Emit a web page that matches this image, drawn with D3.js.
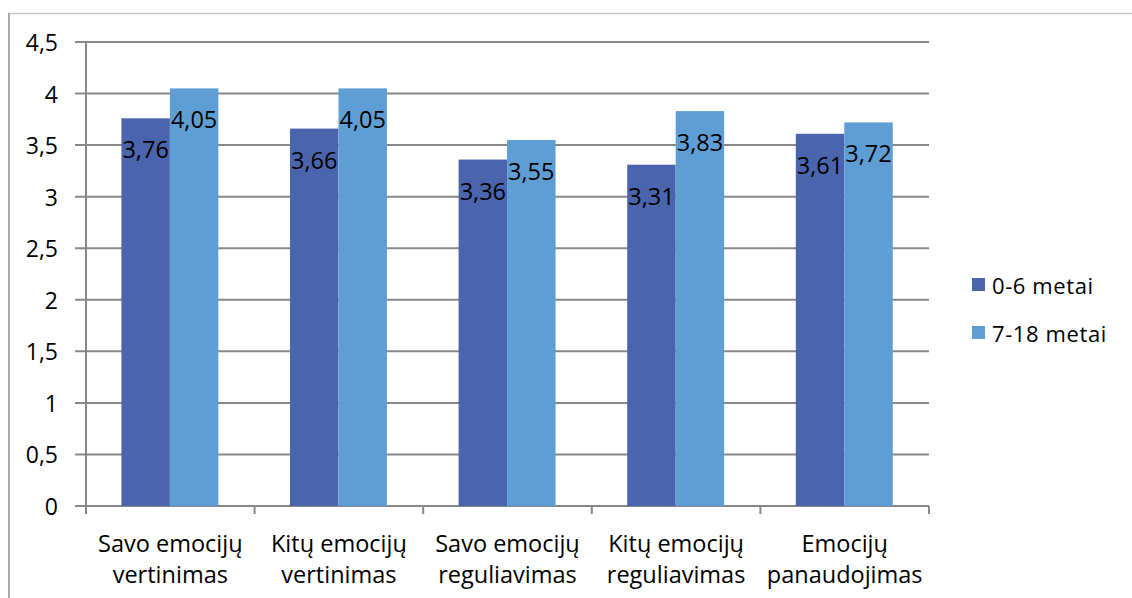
<!DOCTYPE html>
<html>
<head>
<meta charset="utf-8">
<script src="https://cdn.jsdelivr.net/npm/d3@7"></script>
<style>
  html, body { margin: 0; padding: 0; background: #fff; }
  svg { display: block; }
  text { font-family: "Open Sans", "Liberation Sans", sans-serif; fill: #000; }
</style>
</head>
<body>
<svg id="chart" width="1132" height="598"></svg>
<script>
// Category names (two lines each) and series values
const categories = [
  ["Savo emocijų", "vertinimas"],
  ["Kitų emocijų", "vertinimas"],
  ["Savo emocijų", "reguliavimas"],
  ["Kitų emocijų", "reguliavimas"],
  ["Emocijų", "panaudojimas"]
];
const seriesNames = ["0-6 metai", "7-18 metai"];
const youngValues = [3.76, 3.66, 3.36, 3.31, 3.61];
const olderValues = [4.05, 4.05, 3.55, 3.83, 3.72];
const yTicks = [0, 0.5, 1, 1.5, 2, 2.5, 3, 3.5, 4, 4.5];
const colors = ["#4a65ae", "#5f9ed5"];

const lt = d3.formatLocale({ decimal: ",", thousands: " ", grouping: [3], currency: ["", " €"] });
const fmtTick = lt.format("~g");
const fmtVal = lt.format(".2f");

const svg = d3.select("#chart");
svg.append("rect").attr("width", 1132).attr("height", 598).attr("fill", "#fff");

// outer chart frame
svg.append("line").attr("x1", 8).attr("x2", 1132).attr("y1", 13.5).attr("y2", 13.5)
  .attr("stroke", "#c8c8c8").attr("stroke-width", 1.5);
svg.append("line").attr("x1", 9).attr("x2", 9).attr("y1", 13).attr("y2", 598)
  .attr("stroke", "#a8a8a8").attr("stroke-width", 2);

const plot = { left: 86, right: 929, top: 42, bottom: 506 };
const keys = categories.map(c => c.join(" "));

const x0 = d3.scaleBand().domain(keys).range([plot.left, plot.right]).padding(0);
const bw = x0.bandwidth();
const x1 = d3.scaleBand().domain(seriesNames).range([0.21 * bw, 0.785 * bw]).padding(0);
const y = d3.scaleLinear().domain([0, 4.5]).range([plot.bottom, plot.top]);

// horizontal gridlines with outward tick stubs
svg.append("g").selectAll("line").data(yTicks).join("line")
  .attr("x1", plot.left - 11).attr("x2", plot.right)
  .attr("y1", d => y(d)).attr("y2", d => y(d))
  .attr("stroke", "#878787").attr("stroke-width", 2);

// vertical axis line
svg.append("line").attr("x1", plot.left).attr("x2", plot.left)
  .attr("y1", plot.top).attr("y2", plot.bottom)
  .attr("stroke", "#878787").attr("stroke-width", 2);

// category boundary ticks
const bounds = keys.map(k => x0(k)).concat([plot.right]);
svg.append("g").selectAll("line").data(bounds).join("line")
  .attr("x1", d => d).attr("x2", d => d)
  .attr("y1", plot.bottom).attr("y2", plot.bottom + 8)
  .attr("stroke", "#878787").attr("stroke-width", 2);

// y tick labels
svg.append("g").selectAll("text").data(yTicks).join("text")
  .attr("x", 58).attr("y", d => y(d))
  .attr("text-anchor", "end").attr("dominant-baseline", "central")
  .style("font-size", "23px")
  .text(d => fmtTick(d));

// bars
const rows = keys.map((k, i) => ({ key: k, vals: [youngValues[i], olderValues[i]] }));
const groups = svg.append("g").selectAll("g").data(rows).join("g")
  .attr("transform", d => `translate(${x0(d.key)},0)`);

groups.selectAll("rect").data(d => d.vals.map((v, j) => ({ s: seriesNames[j], v, j }))).join("rect")
  .attr("x", d => x1(d.s)).attr("width", x1.bandwidth())
  .attr("y", d => y(d.v)).attr("height", d => y(0) - y(d.v))
  .attr("fill", d => colors[d.j]);

groups.selectAll("text.val").data(d => d.vals.map((v, j) => ({ s: seriesNames[j], v, j }))).join("text")
  .attr("class", "val")
  .attr("x", d => x1(d.s) + x1.bandwidth() / 2)
  .attr("y", d => y(d.v) + 31)
  .attr("text-anchor", "middle").attr("dominant-baseline", "central")
  .style("font-size", "23.5px")
  .text(d => fmtVal(d.v));

// category labels
const cat = svg.append("g").selectAll("text").data(categories).join("text")
  .attr("text-anchor", "middle")
  .style("font-size", "23.5px")
  .attr("transform", (d, i) => `translate(${x0(keys[i]) + bw / 2},0)`);
cat.selectAll("tspan").data(d => d).join("tspan")
  .attr("x", 0).attr("y", (d, i) => 543 + i * 31)
  .attr("dominant-baseline", "central")
  .text(d => d);

// legend
const legend = svg.append("g").selectAll("g").data(seriesNames).join("g")
  .attr("transform", (d, i) => `translate(972,${285 + i * 48})`);
legend.append("rect").attr("x", 0).attr("y", -7).attr("width", 13).attr("height", 13)
  .attr("fill", (d, i) => colors[i]);
legend.append("text").attr("x", 20).attr("y", 0)
  .attr("dominant-baseline", "central")
  .style("font-size", "22px")
  .style("letter-spacing", "0.6px")
  .text(d => d);
</script>
</body>
</html>
